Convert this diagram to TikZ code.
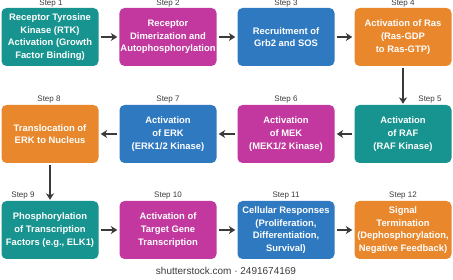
\documentclass[tikz,border=0pt]{standalone}
\usepackage{fontspec}
\setmainfont{Liberation Sans}
\usetikzlibrary{arrows.meta}
\definecolor{cteal}{HTML}{17948F}
\definecolor{cmag}{HTML}{C2389E}
\definecolor{cblue}{HTML}{2F79C0}
\definecolor{corange}{HTML}{E8872C}
\definecolor{cdark}{HTML}{3A3A3A}
\tikzset{
  stepbox/.style={rounded corners=5pt, minimum width=97pt, minimum height=58pt,
    inner sep=1pt, align=center, text=white,
    font=\bfseries\fontsize{9.4}{12.6}\selectfont},
  steplabel/.style={inner sep=0pt, text=cdark, font=\fontsize{8}{9}\selectfont},
  flow/.style={draw=cdark, line width=1.3pt, -{Stealth[length=6.5pt,width=8pt]}},
}
\begin{document}
\begin{tikzpicture}[x=1pt,y=-1pt]
\useasboundingbox (0,0) rectangle (453,280);
% row 1
\node[stepbox, fill=cteal] (b1) at (50,37) {Receptor Tyrosine\\Kinase (RTK)\\Activation (Growth\\Factor Binding)};
\node[stepbox, fill=cmag] (b2) at (168,37) {Receptor\\Dimerization and\\Autophosphorylation};
\node[stepbox, fill=cblue] (b3) at (286,37) {Recruitment of\\Grb2 and SOS};
\node[stepbox, fill=corange] (b4) at (403,37) {Activation of Ras\\(Ras-GDP\\to Ras-GTP)};
% row 2
\node[stepbox, fill=cteal] (b5) at (403,134) {Activation\\of RAF\\(RAF Kinase)};
\node[stepbox, fill=cmag] (b6) at (286,134) {Activation\\of MEK\\(MEK1/2 Kinase)};
\node[stepbox, fill=cblue] (b7) at (168,134) {Activation\\of ERK\\(ERK1/2 Kinase)};
\node[stepbox, fill=corange] (b8) at (50,134) {Translocation of\\ERK to Nucleus};
% row 3
\node[stepbox, fill=cteal] (b9) at (50,230) {Phosphorylation\\of Transcription\\Factors (e.g., ELK1)};
\node[stepbox, fill=cmag] (b10) at (168,230) {Activation of\\Target Gene\\Transcription};
\node[stepbox, fill=cblue] (b11) at (286,230) {Cellular Responses\\(Proliferation,\\Differentiation,\\Survival)};
\node[stepbox, fill=corange] (b12) at (403,230) {Signal\\Termination\\(Dephosphorylation,\\Negative Feedback)};
% step labels
\node[steplabel] (s1) at (51,3.5) {Step 1};
\node[steplabel] (s2) at (168,3.5) {Step 2};
\node[steplabel] (s3) at (286,3.5) {Step 3};
\node[steplabel] (s4) at (403,3.5) {Step 4};
\node[steplabel] (s5) at (430,100) {Step 5};
\node[steplabel] (s6) at (286,100) {Step 6};
\node[steplabel] (s7) at (168,100) {Step 7};
\node[steplabel] (s8) at (49,100) {Step 8};
\node[steplabel] (s9) at (23,196) {Step 9};
\node[steplabel] (s10) at (168,196) {Step 10};
\node[steplabel] (s11) at (286,196) {Step 11};
\node[steplabel] (s12) at (403,196) {Step 12};
% arrows
\draw[flow] ([xshift=2pt]b1.east) -- ([xshift=-2pt]b2.west);
\draw[flow] ([xshift=2pt]b2.east) -- ([xshift=-2pt]b3.west);
\draw[flow] ([xshift=2pt]b3.east) -- ([xshift=-2pt]b4.west);
\draw[flow] ([yshift=-2pt]b4.south) -- ([yshift=1pt]b5.north);
\draw[flow] ([xshift=-2pt]b5.west) -- ([xshift=2pt]b6.east);
\draw[flow] ([xshift=-2pt]b6.west) -- ([xshift=2pt]b7.east);
\draw[flow] ([xshift=-2pt]b7.west) -- ([xshift=2pt]b8.east);
\draw[flow] ([yshift=-2pt]b8.south) -- ([yshift=1pt]b9.north);
\draw[flow] ([xshift=2pt]b9.east) -- ([xshift=-2pt]b10.west);
\draw[flow] ([xshift=2pt]b10.east) -- ([xshift=-2pt]b11.west);
\draw[flow] ([xshift=2pt]b11.east) -- ([xshift=-2pt]b12.west);
% watermark
\node[inner sep=0pt, text=cdark, font=\fontsize{10}{11}\selectfont] (wm) at (226,271) {shutterstock.com · 2491674169};
\end{tikzpicture}
\end{document}
